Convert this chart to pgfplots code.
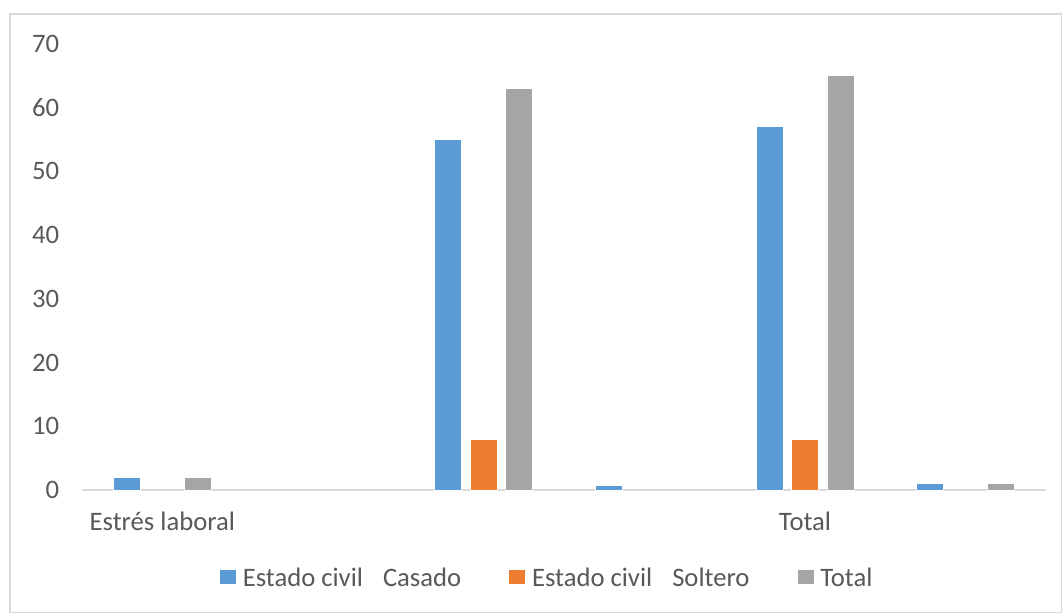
\documentclass[border=0pt]{standalone}
\usepackage{pgfplots}
\pgfplotsset{compat=1.18}
\usepackage{fontspec}
\setmainfont{Carlito}
\definecolor{cblue}{HTML}{5B9BD5}
\definecolor{corange}{HTML}{ED7D31}
\definecolor{cgray}{HTML}{A5A5A5}
\definecolor{ctext}{HTML}{595959}
\definecolor{caxis}{HTML}{D9D9D9}
\begin{document}
\begin{tikzpicture}
\path[use as bounding box] (0,0) rectangle (797.25pt,460.5pt);
\fill[white] (0,0) rectangle (797.25pt,460.5pt);
\draw[caxis, line width=0.8pt] (7.5pt,1.2pt) rectangle (796pt,450pt);
\begin{axis}[
  at={(61.5pt,93pt)}, anchor=south west,
  scale only axis,
  width=723pt, height=334.5pt,
  xmin=-0.5, xmax=5.5,
  ymin=0, ymax=70,
  ytick={0,10,...,70},
  xtick={0,1,2,3,4,5},
  xticklabels={Estrés laboral,,,,Total,},
  major tick length=0pt,
  axis x line*=bottom,
  axis y line*=left,
  x axis line style={caxis, line width=0.9pt, -},
  y axis line style={draw=none},
  /pgf/number format/assume math mode=true,
  font=\fontsize{20}{24}\selectfont,
  tick label style={color=ctext, font=\fontsize{20}{24}\selectfont},
  yticklabel style={anchor=east, inner sep=0pt, xshift=-17pt},
  xticklabel style={anchor=base, inner sep=0pt, yshift=-30pt},
  ybar, bar width=20.25pt,
  legend style={at={(0.483,-0.197)}, anchor=center, draw=none, fill=none,
    legend columns=3, text=ctext, font=\fontsize{20}{24}\selectfont,
    /tikz/every odd column/.append style={column sep=3pt},
    /tikz/every even column/.append style={column sep=34pt}},
  legend image code/.code={\fill[#1,draw=none] (0pt,-4.6pt) rectangle (12pt,6pt);},
  clip=false,
]
\addplot[fill=cblue, draw=white, line width=0.6pt, bar shift=-26.6pt] coordinates {(0,2) (2,55) (3,0.7) (4,57) (5,1)};
\addlegendentry{Estado civil\hspace{0.75em}Casado}
\addplot[fill=corange, draw=white, line width=0.6pt, bar shift=0pt] coordinates {(2,8) (4,8)};
\addlegendentry{Estado civil\hspace{0.75em}Soltero}
\addplot[fill=cgray, draw=white, line width=0.6pt, bar shift=26.6pt] coordinates {(0,2) (2,63) (4,65) (5,1)};
\addlegendentry{Total}
\end{axis}
\end{tikzpicture}
\end{document}
